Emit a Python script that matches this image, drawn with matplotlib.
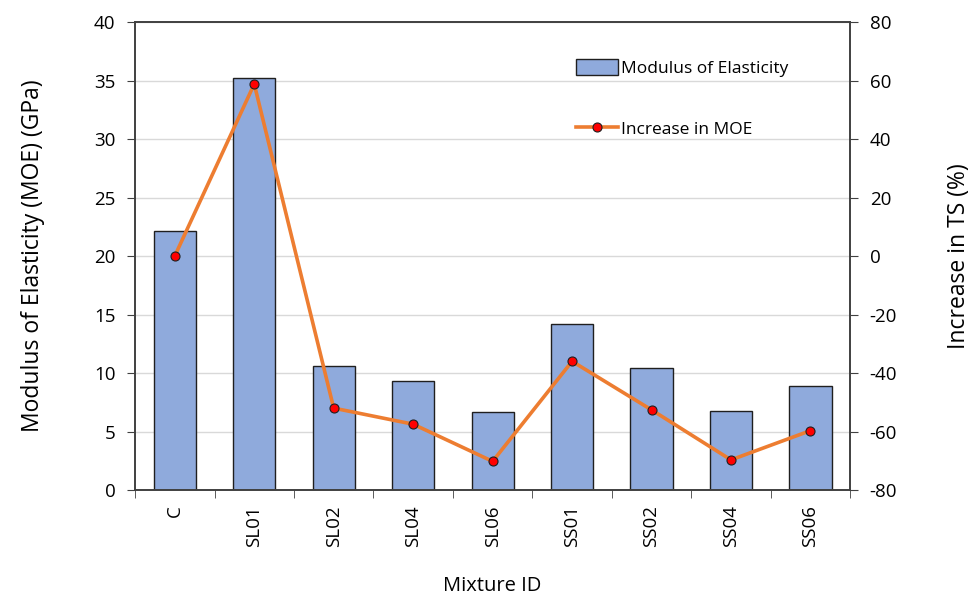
import numpy as np
import matplotlib
matplotlib.use("Agg")
import matplotlib.pyplot as plt

plt.rcParams['font.family'] = ['Open Sans', 'DejaVu Sans']
plt.rcParams['axes.unicode_minus'] = False

mezclas = ["C", "SL01", "SL02", "SL04", "SL06", "SS01", "SS02", "SS04", "SS06"]
moe = [22.1, 35.2, 10.6, 9.35, 6.65, 14.2, 10.45, 6.75, 8.9]
aumento = [0.0, 58.8, -52.0, -57.5, -70.2, -36.0, -52.6, -69.7, -59.7]

fig = plt.figure(figsize=(9.75, 6), dpi=100)
ax = fig.add_axes([0.1385, 0.1833, 0.7335, 0.78])
x = np.arange(len(mezclas))

ax.bar(x, moe, width=0.53, color="#8FAADC", edgecolor="#1F1F1F", linewidth=1.0,
       label="Modulus of Elasticity", zorder=2)
ax.set_ylim(0, 40)
ax.set_yticks(np.arange(0, 41, 5))
ax.set_xlim(-0.5, len(mezclas) - 0.5)
ax.set_xticks(x)
ax.set_xticklabels(mezclas, rotation=90, fontsize=13.5)
ax.set_xticks(np.arange(-0.5, len(mezclas), 1), minor=True)
ax.tick_params(axis="x", which="major", length=0, pad=11)
ax.tick_params(axis="x", which="minor", length=6, color="#404040")
ax.tick_params(axis="y", labelsize=13.5, length=6, color="#404040", pad=8)
ax.grid(axis="y", color="#D9D9D9", linewidth=1, zorder=0)
ax.set_axisbelow(True)
ax.set_ylabel("Modulus of Elasticity (MOE) (GPa)", fontsize=16.5, labelpad=35)
ax.set_xlabel("Mixture ID", fontsize=14.5, labelpad=21)

ax2 = ax.twinx()
ax2.plot(x, aumento, color="#ED7D31", linewidth=2.6, marker="o", markersize=6.5,
         markerfacecolor="#FF0000", markeredgecolor="#1F1F1F", markeredgewidth=0.8,
         label="Increase in MOE", zorder=3)
ax2.set_ylim(-80, 80)
ax2.set_yticks(np.arange(-80, 81, 20))
ax2.tick_params(axis="y", labelsize=13.5, length=6, color="#404040", pad=8)
ax2.set_ylabel("Increase in TS (%)", fontsize=16.5, labelpad=36)

for a in (ax, ax2):
    for s in a.spines.values():
        s.set_color("#404040")
        s.set_linewidth(1.2)

h1, l1 = ax.get_legend_handles_labels()
h2, l2 = ax2.get_legend_handles_labels()
fig.legend(h1 + h2, l1 + l2, loc="upper left", bbox_to_anchor=(0.575, 0.927),
           frameon=False, fontsize=12.5, handlelength=2.4, handleheight=1.0,
           handletextpad=0.15, labelspacing=2.5)

fig.savefig("out.png", dpi=100)
